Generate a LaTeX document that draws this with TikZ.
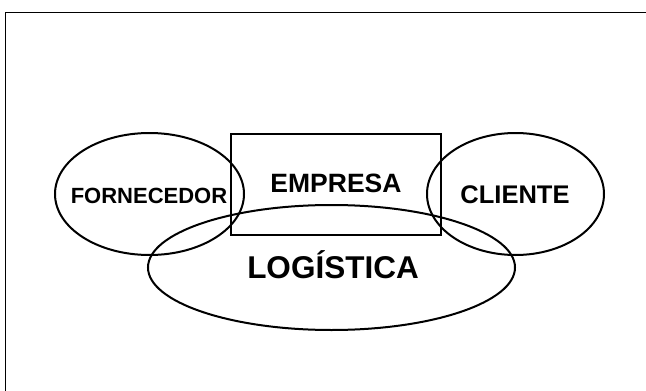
\documentclass[tikz,border=0pt]{standalone}
\usepackage{fontspec}
\setmainfont{Liberation Sans}
\usetikzlibrary{shapes.geometric}
\begin{document}
\begin{tikzpicture}[x=1pt,y=-1pt,
  outline/.style={draw=black,line width=2pt},
  lbl/.style={font=\bfseries,inner sep=0pt}]
\useasboundingbox (0,0) rectangle (646,391);
% page frame (only its top and left edges fall inside the picture)
\draw[line width=1.4pt] (5.5,400) -- (5.5,12.5) -- (660,12.5);
% the three partners and the logistics that joins them
\node[outline,ellipse,minimum width=189pt,minimum height=122pt,inner sep=0pt] (forn) at (149.5,194) {};
\node[outline,rectangle,minimum width=210pt,minimum height=101pt,inner sep=0pt] (emp) at (336,184.5) {};
\node[outline,ellipse,minimum width=177pt,minimum height=122pt,inner sep=0pt] (cli) at (515.5,194) {};
\node[outline,ellipse,minimum width=367pt,minimum height=125pt,inner sep=0pt] (log) at (331.5,267.5) {};
% labels
\node[lbl,font=\fontsize{22}{26}\bfseries\selectfont,anchor=base] (tforn) at (149,203) {FORNECEDOR};
\node[lbl,font=\fontsize{26.5}{30}\bfseries\selectfont,anchor=base] (temp) at (336,192) {EMPRESA};
\node[lbl,font=\fontsize{25.5}{30}\bfseries\selectfont,anchor=base] (tcli) at (515,203) {CLIENTE};
\node[lbl,font=\fontsize{31.5}{36}\bfseries\selectfont,anchor=base] (tlog) at (333,278) {LOGÍSTICA};
\end{tikzpicture}
\end{document}
